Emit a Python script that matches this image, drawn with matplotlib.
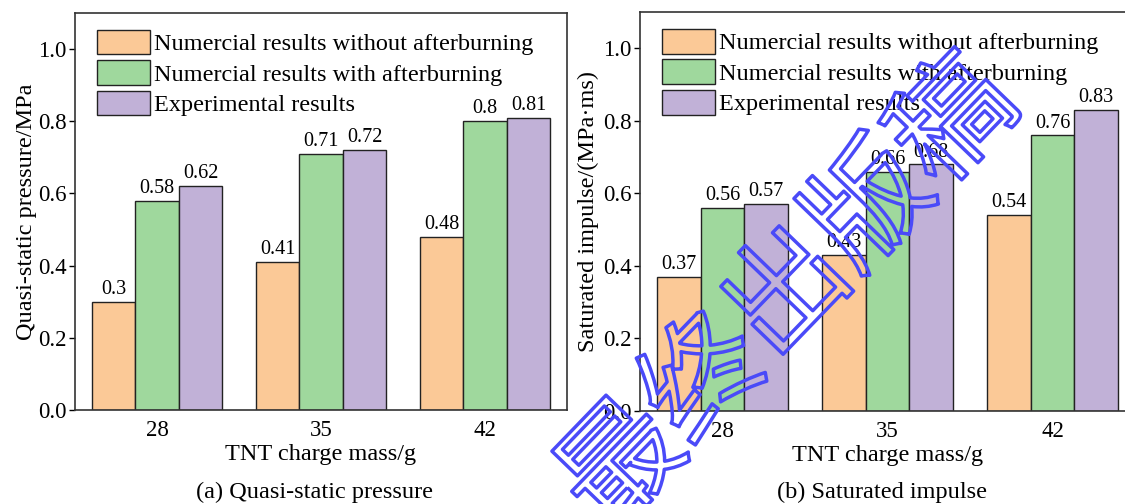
import numpy as np
import matplotlib
matplotlib.use("Agg")
import matplotlib.pyplot as plt
import matplotlib.patheffects as pe

plt.rcParams['font.family'] = ['Liberation Serif', 'DejaVu Serif']

# данные
masses = ["28", "35", "42"]
series_names = ["Numercial results without afterburning",
                "Numercial results with afterburning",
                "Experimental results"]
pressure_no = [0.30, 0.41, 0.48]
pressure_with = [0.58, 0.71, 0.80]
pressure_exp = [0.62, 0.72, 0.81]
impulse_no = [0.37, 0.43, 0.54]
impulse_with = [0.56, 0.66, 0.76]
impulse_exp = [0.57, 0.68, 0.83]

colors = ["#FBC997", "#9FD89D", "#C1B1D7"]
bar_w = 0.265

fig = plt.figure(figsize=(11.25, 5.04), dpi=100)
ax1 = fig.add_axes([0.0667, 0.1865, 0.4373, 0.788])
ax2 = fig.add_axes([0.5689, 0.1845, 0.44, 0.7917])


def draw(ax, groups, ylabel, lx):
    x = np.arange(len(masses))
    for i, vals in enumerate(groups):
        bars = ax.bar(x + (i - 1) * bar_w, vals, bar_w, color=colors[i],
                      edgecolor="#222222", linewidth=1.0, label=series_names[i], zorder=2)
        ax.bar_label(bars, labels=["%g" % v for v in vals], padding=2, fontsize=14.5)
    ax.set_xlim(-0.5, 2.5)
    ax.set_ylim(0, 1.1)
    ax.set_yticks([0.0, 0.2, 0.4, 0.6, 0.8, 1.0])
    ax.set_yticklabels(["0.0", "0.2", "0.4", "0.6", "0.8", "1.0"])
    ax.set_xticks(x)
    ax.set_xticklabels(masses)
    ax.tick_params(axis="y", direction="out", length=4, width=1, labelsize=16.5, pad=2)
    ax.tick_params(axis="x", length=0, labelsize=16.5, pad=7)
    for s in ax.spines.values():
        s.set_linewidth(1.2)
        s.set_color("#333333")
    ax.set_xlabel("TNT charge mass/g", fontsize=17.5, labelpad=2)
    ax.set_ylabel(ylabel, fontsize=17.5, labelpad=lx)
    ax.legend(loc="upper left", bbox_to_anchor=(0.044, 0.958), frameon=False,
              fontsize=17.5, borderpad=0, borderaxespad=0, handlelength=2.2,
              handleheight=1.2, handletextpad=0.15, labelspacing=0.2)


draw(ax1, [pressure_no, pressure_with, pressure_exp], "Quasi-static pressure/MPa", 1)
draw(ax2, [impulse_no, impulse_with, impulse_exp], "Saturated impulse/(MPa·ms)", 3)

fig.text(314 / 1125, 1 - 492 / 504, "(a) Quasi-static pressure", fontsize=17.5,
         ha="center", va="center")
fig.text(882 / 1125, 1 - 492 / 504, "(b) Saturated impulse", fontsize=17.5,
         ha="center", va="center")

# водяной знак
fig.text(790 / 1125, 1 - 295 / 504, "最终出版稿", fontsize=86, rotation=46,
         ha="center", va="center", color="none",
         family=["Noto Sans CJK SC", "DejaVu Sans"],
         path_effects=[pe.Stroke(linewidth=2.5, foreground="#4A4AF8")], zorder=10)

fig.savefig("out.png", dpi=100)
